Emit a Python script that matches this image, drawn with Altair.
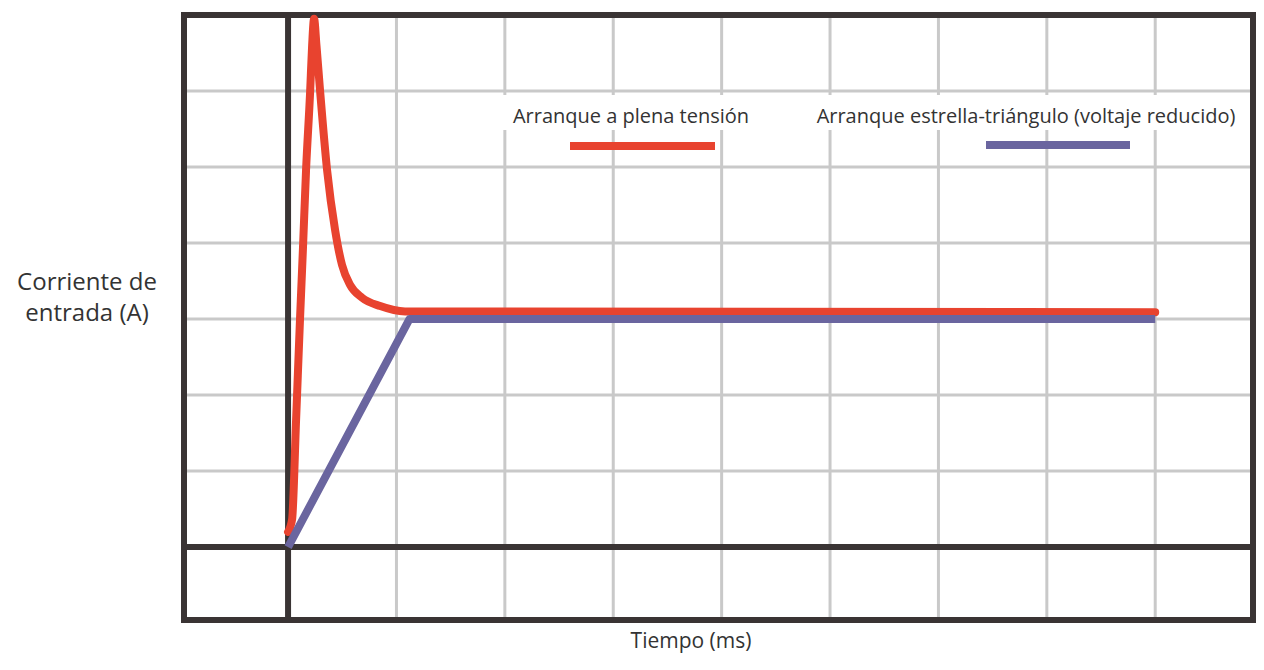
import altair as alt
import pandas as pd

# Data (x: time units, y: current units)
red_x = [0.0, 0.037, 0.074, 0.11, 0.138, 0.166, 0.203, 0.222, 0.24, 0.262, 0.295, 0.36, 0.434, 0.498, 0.572, 0.683, 0.85, 1.08, 8.0]
red_y = [0.2, 0.36, 1.67, 2.99, 3.95, 4.96, 5.97, 6.6, 6.95, 6.6, 6.01, 4.96, 4.17, 3.71, 3.45, 3.28, 3.17, 3.10, 3.09]
blue_x = [0.0, 1.12, 8.0]
blue_y = [0.0, 3.0, 3.0]

grid_x = [1, 2, 3, 4, 5, 6, 7, 8]
grid_y = [1, 2, 3, 4, 5, 6]

legend_labels = ["Arranque a plena tensión", "Arranque estrella-triángulo (voltaje reducido)"]
y_title = ["Corriente de", "entrada (A)"]
x_title = "Tiempo (ms)"

RED = "#e8432f"
BLUE = "#6a659f"
DARK = "#3a3434"
GRID = "#c9c9c9"
FONT = "Open Sans"
TXT = "#333333"

W, H = 1069, 605

xs = alt.Scale(domain=[-0.96, 8.902], nice=False, zero=False)
ys = alt.Scale(domain=[-0.96, 7.0], nice=False, zero=False)

red_df = pd.DataFrame({"t": red_x, "i": red_y, "o": range(len(red_x))})
blue_df = pd.DataFrame({"t": blue_x, "i": blue_y, "o": range(len(blue_x))})

grid_v = alt.Chart(pd.DataFrame({"g": grid_x})).mark_rule(color=GRID, strokeWidth=3).encode(
    x=alt.X("g:Q", scale=xs, axis=None))
grid_h = alt.Chart(pd.DataFrame({"g": grid_y})).mark_rule(color=GRID, strokeWidth=3).encode(
    y=alt.Y("g:Q", scale=ys, axis=None))

one = pd.DataFrame({"a": [0]})

white_box = alt.Chart(one).mark_rect(color="white").encode(
    x=alt.value(311), x2=alt.value(1058), y=alt.value(80), y2=alt.value(115))

axis_v = alt.Chart(one).mark_rule(color=DARK, strokeWidth=6).encode(
    x=alt.X("a:Q", scale=xs, axis=None))
axis_h = alt.Chart(one).mark_rule(color=DARK, strokeWidth=6).encode(
    y=alt.Y("a:Q", scale=ys, axis=None))

frame = alt.Chart(one).mark_rect(fill=None, fillOpacity=0, stroke=DARK, strokeWidth=6).encode(
    x=alt.value(0), x2=alt.value(W), y=alt.value(0), y2=alt.value(H))

red_line = alt.Chart(red_df).mark_line(color=RED, strokeWidth=8, interpolate="monotone",
                                       strokeCap="round", strokeJoin="round").encode(
    x=alt.X("t:Q", scale=xs, axis=None),
    y=alt.Y("i:Q", scale=ys, axis=None),
    order="o:Q")
blue_line = alt.Chart(blue_df).mark_line(color=BLUE, strokeWidth=8, strokeJoin="round").encode(
    x=alt.X("t:Q", scale=xs, axis=None),
    y=alt.Y("i:Q", scale=ys, axis=None),
    order="o:Q")

leg_t1 = alt.Chart(one).mark_text(font=FONT, fontSize=20, color=TXT, align="center", baseline="middle").encode(
    x=alt.value(447), y=alt.value(102), text=alt.value(legend_labels[0]))
leg_t2 = alt.Chart(one).mark_text(font=FONT, fontSize=20, color=TXT, align="center", baseline="middle").encode(
    x=alt.value(842), y=alt.value(102), text=alt.value(legend_labels[1]))
leg_b1 = alt.Chart(one).mark_rule(color=RED, strokeWidth=8).encode(
    x=alt.value(386), x2=alt.value(531), y=alt.value(131))
leg_b2 = alt.Chart(one).mark_rule(color=BLUE, strokeWidth=8).encode(
    x=alt.value(802), x2=alt.value(946), y=alt.value(130))

ytitle = alt.Chart(one).mark_text(font=FONT, fontSize=24, color=TXT, align="center", baseline="middle",
                                  lineHeight=31).encode(
    x=alt.value(-97), y=alt.value(268), text=alt.value(y_title))
xtitle = alt.Chart(one).mark_text(font=FONT, fontSize=21, color=TXT, align="center", baseline="middle").encode(
    x=alt.value(507), y=alt.value(627), text=alt.value(x_title))

chart = alt.layer(
    grid_v, grid_h, white_box, leg_t1, leg_t2, axis_v, axis_h, frame, red_line, blue_line, leg_b1, leg_b2, ytitle, xtitle
).properties(
    width=W, height=H,
    autosize=alt.AutoSizeParams(type="none"),
    padding={"left": 176, "top": 7, "right": 3, "bottom": 37},
).configure(background="white").configure_view(stroke=None)

chart.save("out.html", embed_options={"renderer": "svg", "actions": False})
